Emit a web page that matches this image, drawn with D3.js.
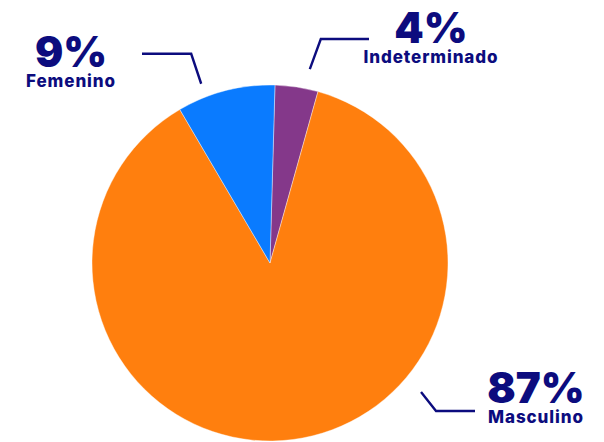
<!DOCTYPE html>
<html>
<head>
<meta charset="utf-8">
<script src="https://cdn.jsdelivr.net/npm/d3@7"></script>
<style>
  body { margin: 0; background: #fff; }
  .pct { font-family: Inter, Roboto, sans-serif; font-weight: 900; }
  .name { font-family: Inter, Roboto, sans-serif; font-weight: 800; letter-spacing: 0.9px; }
</style>
</head>
<body>
<div id="chart"></div>
<script>
// datos
const categories = ['Indeterminado', 'Masculino', 'Femenino'];
const values = [3.9, 87.2, 8.9];
const colors = ['#84388a', '#ff7f0e', '#0a7bff'];

const width = 604;
const height = 442;
const cx = 270, cy = 263;
const radius = 178;
const navy = '#0c0c7e';

// label layout: angle (deg) + radius of line start, elbow offset, end x, text pos
const labelLayout = {
  'Femenino':      {angle: -21,   r: 192,   elbow: [-10, -30], endX: 142, tx: 71,  ty: 67},
  'Indeterminado': {angle: 11.6,  r: 198,   elbow: [11, -30],  endX: 369, tx: 431, ty: 43},
  'Masculino':     {angle: 130.5, r: 198.6, elbow: [15, 19],   endX: 475, tx: 536, ty: 403}
};

const data = categories.map((c, i) => ({name: c, value: values[i], color: colors[i]}));

const svg = d3.select('#chart').append('svg')
  .attr('width', width)
  .attr('height', height);

const g = svg.append('g')
  .attr('transform', `translate(${cx},${cy})`);

const start = 1.6 * Math.PI / 180;
const pie = d3.pie()
  .sort(null)
  .value(d => d.value)
  .startAngle(start)
  .endAngle(start + 2 * Math.PI);

const arc = d3.arc().innerRadius(0).outerRadius(radius);

g.selectAll('path.slice').data(pie(data))
  .enter().append('path')
  .attr('class', 'slice')
  .attr('d', arc)
  .attr('fill', d => d.data.color)
  .attr('stroke', '#fff')
  .attr('stroke-width', 0.4);

const labels = svg.append('g');
data.forEach(d => {
  const l = labelLayout[d.name];
  const a = l.angle * Math.PI / 180;
  const x0 = cx + l.r * Math.sin(a);
  const y0 = cy - l.r * Math.cos(a);
  const x1 = x0 + l.elbow[0];
  const y1 = y0 + l.elbow[1];
  labels.append('polyline')
    .attr('points', [[x0, y0], [x1, y1], [l.endX, y1]].map(p => p.join(',')).join(' '))
    .attr('fill', 'none')
    .attr('stroke', navy)
    .attr('stroke-width', 2.4);
  labels.append('text')
    .attr('class', 'pct')
    .attr('x', l.tx)
    .attr('y', l.ty)
    .attr('text-anchor', 'middle')
    .attr('fill', navy)
    .style('font-size', '42px')
    .text(Math.round(d.value) + '%');
  labels.append('text')
    .attr('class', 'name')
    .attr('x', l.tx)
    .attr('y', l.ty + 20)
    .attr('text-anchor', 'middle')
    .attr('fill', navy)
    .style('font-size', '17px')
    .text(d.name);
});
</script>
</body>
</html>
